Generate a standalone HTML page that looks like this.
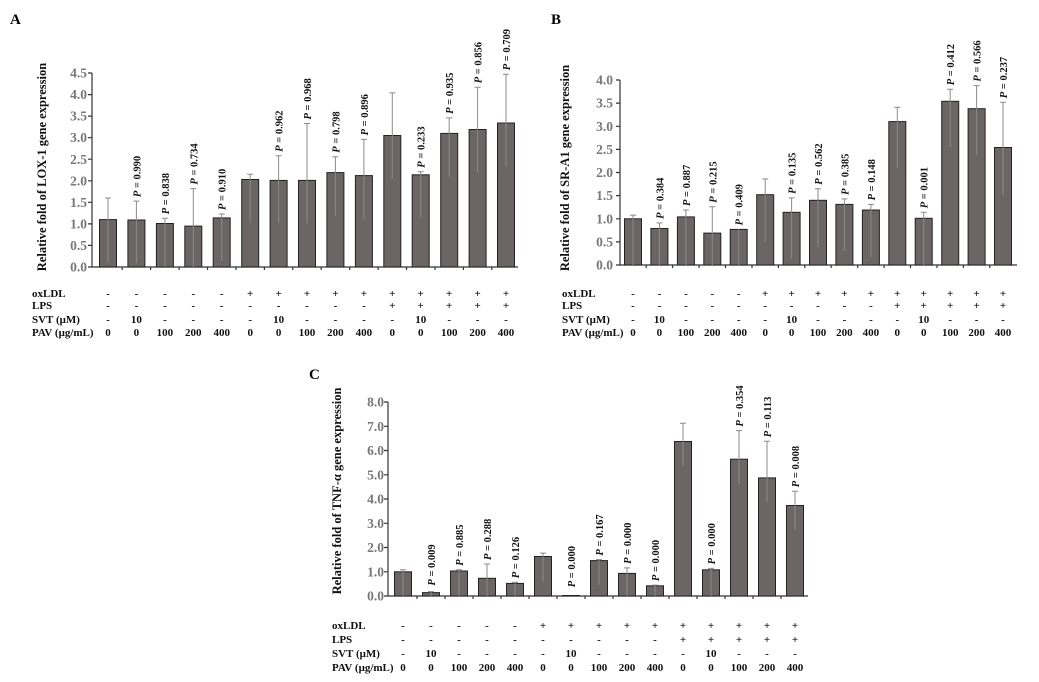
<!DOCTYPE html>
<html><head><meta charset="utf-8"><style>
html,body{margin:0;padding:0;background:#fff;}
svg{display:block;font-family:"Liberation Serif",serif;font-weight:bold;}
.bar{fill:#6b6566;stroke:#222;stroke-width:1}
.err{stroke:#8a8a8a;stroke-width:1;fill:none}
.ax{stroke:#333;stroke-width:1.2;fill:none}
.tk{fill:#777;font-size:13.5px;text-anchor:end}
.p{font-size:10.5px;fill:#111}
.tb{font-size:11px;fill:#111;text-anchor:middle}
.tl{font-size:11px;fill:#111}
.yl{font-size:12.5px;fill:#111;text-anchor:middle}
.pn{font-size:15px;fill:#000}
</style></head><body>
<svg width="1039" height="682" viewBox="0 0 1039 682">
<!-- Panel A -->
<text class="pn" x="10" y="24">A</text>
<text class="yl" transform="translate(46,167) rotate(-90)">Relative fold of LOX-1 gene expression</text>
<g class="tk">
<text x="87" y="271.5">0.0</text><text x="87" y="249.9">0.5</text><text x="87" y="228.4">1.0</text><text x="87" y="206.9">1.5</text><text x="87" y="185.3">2.0</text><text x="87" y="163.8">2.5</text><text x="87" y="142.2">3.0</text><text x="87" y="120.7">3.5</text><text x="87" y="99.1">4.0</text><text x="87" y="77.5">4.5</text>
</g>
<path class="ax" d="M92 73V267H518M88 73h4M88 94.6h4M88 116.1h4M88 137.7h4M88 159.2h4M88 180.8h4M88 202.3h4M88 223.9h4M88 245.4h4M88 267h4M122.2 267v3M150.6 267v3M179.1 267v3M207.5 267v3M236 267v3M264.4 267v3M292.8 267v3M321.2 267v3M349.7 267v3M378.1 267v3M406.5 267v3M435 267v3M463.4 267v3M491.8 267v3"/>
<g class="bar">
<rect x="99.5" y="219.6" width="17" height="47.4"/><rect x="127.9" y="220" width="17" height="47"/><rect x="156.4" y="223.5" width="17" height="43.5"/><rect x="184.8" y="226.1" width="17" height="40.9"/><rect x="213.2" y="217.9" width="17" height="49.1"/><rect x="241.7" y="179.5" width="17" height="87.5"/><rect x="270.1" y="180.4" width="17" height="86.6"/><rect x="298.5" y="180.4" width="17" height="86.6"/><rect x="326.9" y="172.6" width="17" height="94.4"/><rect x="355.4" y="175.6" width="17" height="91.4"/><rect x="383.8" y="135.5" width="17" height="131.5"/><rect x="412.2" y="174.8" width="17" height="92.2"/><rect x="440.7" y="133.4" width="17" height="133.6"/><rect x="469.1" y="129.5" width="17" height="137.5"/><rect x="497.5" y="123" width="17" height="144"/>
</g>
<path class="err" d="M108 262.7V198M105 198h6M136.4 263.1V201.1M133.4 201.1h6M164.9 266.6V218.3M161.9 218.3h6M193.3 267V188.6M190.3 188.6h6M221.7 261V214M218.7 214h6M250.2 222.6V174.3M247.2 174.3h6M278.6 223.5V155.8M275.6 155.8h6M307 223.5V123.5M304 123.5h6M335.4 215.7V156.7M332.4 156.7h6M363.9 218.7V139.4M360.9 139.4h6M392.3 178.6V92.9M389.3 92.9h6M420.7 217.9V171.7M417.7 171.7h6M449.2 176.5V117.9M446.2 117.9h6M477.6 172.6V87.3M474.6 87.3h6M506 166.1V74.3M503 74.3h6"/>
<g class="p">
<text transform="translate(140.4,197.1) rotate(-90)"><tspan font-style="italic">P</tspan> = 0.990</text>
<text transform="translate(168.9,214.3) rotate(-90)"><tspan font-style="italic">P</tspan> = 0.838</text>
<text transform="translate(197.3,184.6) rotate(-90)"><tspan font-style="italic">P</tspan> = 0.734</text>
<text transform="translate(225.7,210) rotate(-90)"><tspan font-style="italic">P</tspan> = 0.910</text>
<text transform="translate(282.6,151.8) rotate(-90)"><tspan font-style="italic">P</tspan> = 0.962</text>
<text transform="translate(311,119.5) rotate(-90)"><tspan font-style="italic">P</tspan> = 0.968</text>
<text transform="translate(339.4,152.7) rotate(-90)"><tspan font-style="italic">P</tspan> = 0.798</text>
<text transform="translate(367.9,135.4) rotate(-90)"><tspan font-style="italic">P</tspan> = 0.896</text>
<text transform="translate(424.7,167.7) rotate(-90)"><tspan font-style="italic">P</tspan> = 0.233</text>
<text transform="translate(453.2,113.9) rotate(-90)"><tspan font-style="italic">P</tspan> = 0.935</text>
<text transform="translate(481.6,83.3) rotate(-90)"><tspan font-style="italic">P</tspan> = 0.856</text>
<text transform="translate(510,70.3) rotate(-90)"><tspan font-style="italic">P</tspan> = 0.709</text>
</g>
<g class="tl"><text x="32" y="297">oxLDL</text><text x="32" y="309">LPS</text><text x="32" y="323">SVT (μM)</text><text x="32" y="336">PAV  (μg/mL)</text></g>
<g class="tb">
<text x="108 136.4 164.9 193.3 221.7 250.2 278.6 307 335.4 363.9 392.3 420.7 449.2 477.6 506" y="297">-----++++++++++</text>
<text x="108 136.4 164.9 193.3 221.7 250.2 278.6 307 335.4 363.9 392.3 420.7 449.2 477.6 506" y="309">----------+++++</text>
<text y="323"><tspan x="108">-</tspan><tspan x="136.4">10</tspan><tspan x="164.9">-</tspan><tspan x="193.3">-</tspan><tspan x="221.7">-</tspan><tspan x="250.2">-</tspan><tspan x="278.6">10</tspan><tspan x="307">-</tspan><tspan x="335.4">-</tspan><tspan x="363.9">-</tspan><tspan x="392.3">-</tspan><tspan x="420.7">10</tspan><tspan x="449.2">-</tspan><tspan x="477.6">-</tspan><tspan x="506">-</tspan></text>
<text y="336"><tspan x="108">0</tspan><tspan x="136.4">0</tspan><tspan x="164.9">100</tspan><tspan x="193.3">200</tspan><tspan x="221.7">400</tspan><tspan x="250.2">0</tspan><tspan x="278.6">0</tspan><tspan x="307">100</tspan><tspan x="335.4">200</tspan><tspan x="363.9">400</tspan><tspan x="392.3">0</tspan><tspan x="420.7">0</tspan><tspan x="449.2">100</tspan><tspan x="477.6">200</tspan><tspan x="506">400</tspan></text>
</g>

<!-- Panel B -->
<text class="pn" x="551" y="24">B</text>
<text class="yl" transform="translate(569,168) rotate(-90)">Relative fold of SR-A1 gene expression</text>
<g class="tk">
<text x="613" y="269.5">0.0</text><text x="613" y="246.4">0.5</text><text x="613" y="223.3">1.0</text><text x="613" y="200.1">1.5</text><text x="613" y="177">2.0</text><text x="613" y="153.9">2.5</text><text x="613" y="130.8">3.0</text><text x="613" y="107.6">3.5</text><text x="613" y="84.5">4.0</text>
</g>
<path class="ax" d="M620 80V265H1017M616 80h4M616 103.1h4M616 126.3h4M616 149.4h4M616 172.5h4M616 195.6h4M616 218.8h4M616 241.9h4M616 265h4M646.2 265v3M672.6 265v3M699.1 265v3M725.5 265v3M752 265v3M778.4 265v3M804.8 265v3M831.2 265v3M857.7 265v3M884.1 265v3M910.5 265v3M937 265v3M963.4 265v3M989.8 265v3"/>
<g class="bar">
<rect x="624.5" y="218.8" width="17" height="46.2"/><rect x="650.9" y="228.5" width="17" height="36.5"/><rect x="677.4" y="216.9" width="17" height="48.1"/><rect x="703.8" y="233.1" width="17" height="31.9"/><rect x="730.2" y="229.4" width="17" height="35.6"/><rect x="756.7" y="194.7" width="17" height="70.3"/><rect x="783.1" y="212.3" width="17" height="52.7"/><rect x="809.5" y="200.3" width="17" height="64.7"/><rect x="835.9" y="204.4" width="17" height="60.6"/><rect x="862.4" y="210" width="17" height="55"/><rect x="888.8" y="121.6" width="17" height="143.4"/><rect x="915.2" y="218.3" width="17" height="46.7"/><rect x="941.7" y="101.3" width="17" height="163.7"/><rect x="968.1" y="108.7" width="17" height="156.3"/><rect x="994.5" y="147.5" width="17" height="117.5"/>
</g>
<path class="err" d="M633 265V215.1M630 215.1h6M659.4 265V222.9M656.4 222.9h6M685.9 265V210M682.9 210h6M712.3 265V206.7M709.3 206.7h6M738.7 265V229.4M765.2 241.9V179M762.2 179h6M791.6 259V197.9M788.6 197.9h6M818 247V188.7M815 188.7h6M844.4 251V198.9M841.4 198.9h6M870.9 257V204.4M867.9 204.4h6M897.3 167.9V107.3M894.3 107.3h6M923.7 265V212.3M920.7 212.3h6M950.2 147.1V89.3M947.2 89.3h6M976.6 155.4V85.6M973.6 85.6h6M1003 194.7V102.2M1000 102.2h6"/>
<g class="p">
<text transform="translate(663.4,218.9) rotate(-90)"><tspan font-style="italic">P</tspan> = 0.384</text>
<text transform="translate(689.9,206) rotate(-90)"><tspan font-style="italic">P</tspan> = 0.887</text>
<text transform="translate(716.3,202.7) rotate(-90)"><tspan font-style="italic">P</tspan> = 0.215</text>
<text transform="translate(742.7,225.4) rotate(-90)"><tspan font-style="italic">P</tspan> = 0.409</text>
<text transform="translate(795.6,193.9) rotate(-90)"><tspan font-style="italic">P</tspan> = 0.135</text>
<text transform="translate(822,184.7) rotate(-90)"><tspan font-style="italic">P</tspan> = 0.562</text>
<text transform="translate(848.4,194.9) rotate(-90)"><tspan font-style="italic">P</tspan> = 0.385</text>
<text transform="translate(874.9,200.4) rotate(-90)"><tspan font-style="italic">P</tspan> = 0.148</text>
<text transform="translate(927.7,208.3) rotate(-90)"><tspan font-style="italic">P</tspan> = 0.001</text>
<text transform="translate(954.2,85.3) rotate(-90)"><tspan font-style="italic">P</tspan> = 0.412</text>
<text transform="translate(980.6,81.6) rotate(-90)"><tspan font-style="italic">P</tspan> = 0.566</text>
<text transform="translate(1007,98.2) rotate(-90)"><tspan font-style="italic">P</tspan> = 0.237</text>
</g>
<g class="tl"><text x="562" y="297">oxLDL</text><text x="562" y="309">LPS</text><text x="562" y="323">SVT (μM)</text><text x="562" y="336">PAV (μg/mL)</text></g>
<g class="tb">
<text x="633 659.4 685.9 712.3 738.7 765.2 791.6 818 844.4 870.9 897.3 923.7 950.2 976.6 1003" y="297">-----++++++++++</text>
<text x="633 659.4 685.9 712.3 738.7 765.2 791.6 818 844.4 870.9 897.3 923.7 950.2 976.6 1003" y="309">----------+++++</text>
<text y="323"><tspan x="633">-</tspan><tspan x="659.4">10</tspan><tspan x="685.9">-</tspan><tspan x="712.3">-</tspan><tspan x="738.7">-</tspan><tspan x="765.2">-</tspan><tspan x="791.6">10</tspan><tspan x="818">-</tspan><tspan x="844.4">-</tspan><tspan x="870.9">-</tspan><tspan x="897.3">-</tspan><tspan x="923.7">10</tspan><tspan x="950.2">-</tspan><tspan x="976.6">-</tspan><tspan x="1003">-</tspan></text>
<text y="336"><tspan x="633">0</tspan><tspan x="659.4">0</tspan><tspan x="685.9">100</tspan><tspan x="712.3">200</tspan><tspan x="738.7">400</tspan><tspan x="765.2">0</tspan><tspan x="791.6">0</tspan><tspan x="818">100</tspan><tspan x="844.4">200</tspan><tspan x="870.9">400</tspan><tspan x="897.3">0</tspan><tspan x="923.7">0</tspan><tspan x="950.2">100</tspan><tspan x="976.6">200</tspan><tspan x="1003">400</tspan></text>
</g>

<!-- Panel C -->
<text class="pn" x="309" y="379">C</text>
<text class="yl" transform="translate(341,491) rotate(-90)">Relative fold of TNF-α gene expression</text>
<g class="tk">
<text x="384" y="600.5">0.0</text><text x="384" y="576.3">1.0</text><text x="384" y="552">2.0</text><text x="384" y="527.8">3.0</text><text x="384" y="503.5">4.0</text><text x="384" y="479.3">5.0</text><text x="384" y="455">6.0</text><text x="384" y="430.8">7.0</text><text x="384" y="406.5">8.0</text>
</g>
<path class="ax" d="M388 402V596H808M384 402h4M384 426.3h4M384 450.5h4M384 474.8h4M384 499h4M384 523.3h4M384 547.5h4M384 571.8h4M384 596h4M417 596v3M445 596v3M473 596v3M501 596v3M529 596v3M557 596v3M585 596v3M613 596v3M641 596v3M669 596v3M697 596v3M725 596v3M753 596v3M781 596v3"/>
<g class="bar">
<rect x="394.5" y="571.8" width="17" height="24.2"/><rect x="422.5" y="592.6" width="17" height="3.4"/><rect x="450.5" y="571" width="17" height="25"/><rect x="478.5" y="578.3" width="17" height="17.7"/><rect x="506.5" y="583.4" width="17" height="12.6"/><rect x="534.5" y="556.5" width="17" height="39.5"/><rect x="562.5" y="595.5" width="17" height="0.5"/><rect x="590.5" y="560.6" width="17" height="35.4"/><rect x="618.5" y="573.4" width="17" height="22.6"/><rect x="646.5" y="585.8" width="17" height="10.2"/><rect x="674.5" y="441.5" width="17" height="154.5"/><rect x="702.5" y="569.8" width="17" height="26.2"/><rect x="730.5" y="459.2" width="17" height="136.8"/><rect x="758.5" y="477.9" width="17" height="118.1"/><rect x="786.5" y="505.5" width="17" height="90.5"/>
</g>
<path class="err" d="M403 596V569.8M400 569.8h6M431 596V591.6M428 591.6h6M459 596V569.8M456 569.8h6M487 596V564M484 564h6M515 596V582.2M512 582.2h6M543 581.5V553.1M540 553.1h6M599 585V559.6M596 559.6h6M627 596V567.9M624 567.9h6M655 596V585.1M652 585.1h6M683 465.8V423.3M680 423.3h6M711 596V568.4M708 568.4h6M739 484V430.6M736 430.6h6M767 502.2V441.3M764 441.3h6M795 530V491.2M792 491.2h6"/>
<g class="p">
<text transform="translate(435,585.6) rotate(-90)"><tspan font-style="italic">P</tspan> = 0.009</text>
<text transform="translate(463,565.8) rotate(-90)"><tspan font-style="italic">P</tspan> = 0.885</text>
<text transform="translate(491,560) rotate(-90)"><tspan font-style="italic">P</tspan> = 0.288</text>
<text transform="translate(519,578.2) rotate(-90)"><tspan font-style="italic">P</tspan> = 0.126</text>
<text transform="translate(575,587.3) rotate(-90)"><tspan font-style="italic">P</tspan> = 0.000</text>
<text transform="translate(603,555.6) rotate(-90)"><tspan font-style="italic">P</tspan> = 0.167</text>
<text transform="translate(631,563.9) rotate(-90)"><tspan font-style="italic">P</tspan> = 0.000</text>
<text transform="translate(659,581.1) rotate(-90)"><tspan font-style="italic">P</tspan> = 0.000</text>
<text transform="translate(715,564.4) rotate(-90)"><tspan font-style="italic">P</tspan> = 0.000</text>
<text transform="translate(743,426.6) rotate(-90)"><tspan font-style="italic">P</tspan> = 0.354</text>
<text transform="translate(771,437.3) rotate(-90)"><tspan font-style="italic">P</tspan> = 0.113</text>
<text transform="translate(799,487.2) rotate(-90)"><tspan font-style="italic">P</tspan> = 0.008</text>
</g>
<g class="tl"><text x="332" y="629">oxLDL</text><text x="332" y="643">LPS</text><text x="332" y="657">SVT (μM)</text><text x="332" y="671">PAV (μg/mL)</text></g>
<g class="tb">
<text x="403 431 459 487 515 543 571 599 627 655 683 711 739 767 795" y="629">-----++++++++++</text>
<text x="403 431 459 487 515 543 571 599 627 655 683 711 739 767 795" y="643">----------+++++</text>
<text y="657"><tspan x="403">-</tspan><tspan x="431">10</tspan><tspan x="459">-</tspan><tspan x="487">-</tspan><tspan x="515">-</tspan><tspan x="543">-</tspan><tspan x="571">10</tspan><tspan x="599">-</tspan><tspan x="627">-</tspan><tspan x="655">-</tspan><tspan x="683">-</tspan><tspan x="711">10</tspan><tspan x="739">-</tspan><tspan x="767">-</tspan><tspan x="795">-</tspan></text>
<text y="671"><tspan x="403">0</tspan><tspan x="431">0</tspan><tspan x="459">100</tspan><tspan x="487">200</tspan><tspan x="515">400</tspan><tspan x="543">0</tspan><tspan x="571">0</tspan><tspan x="599">100</tspan><tspan x="627">200</tspan><tspan x="655">400</tspan><tspan x="683">0</tspan><tspan x="711">0</tspan><tspan x="739">100</tspan><tspan x="767">200</tspan><tspan x="795">400</tspan></text>
</g>
</svg>
</body></html>
